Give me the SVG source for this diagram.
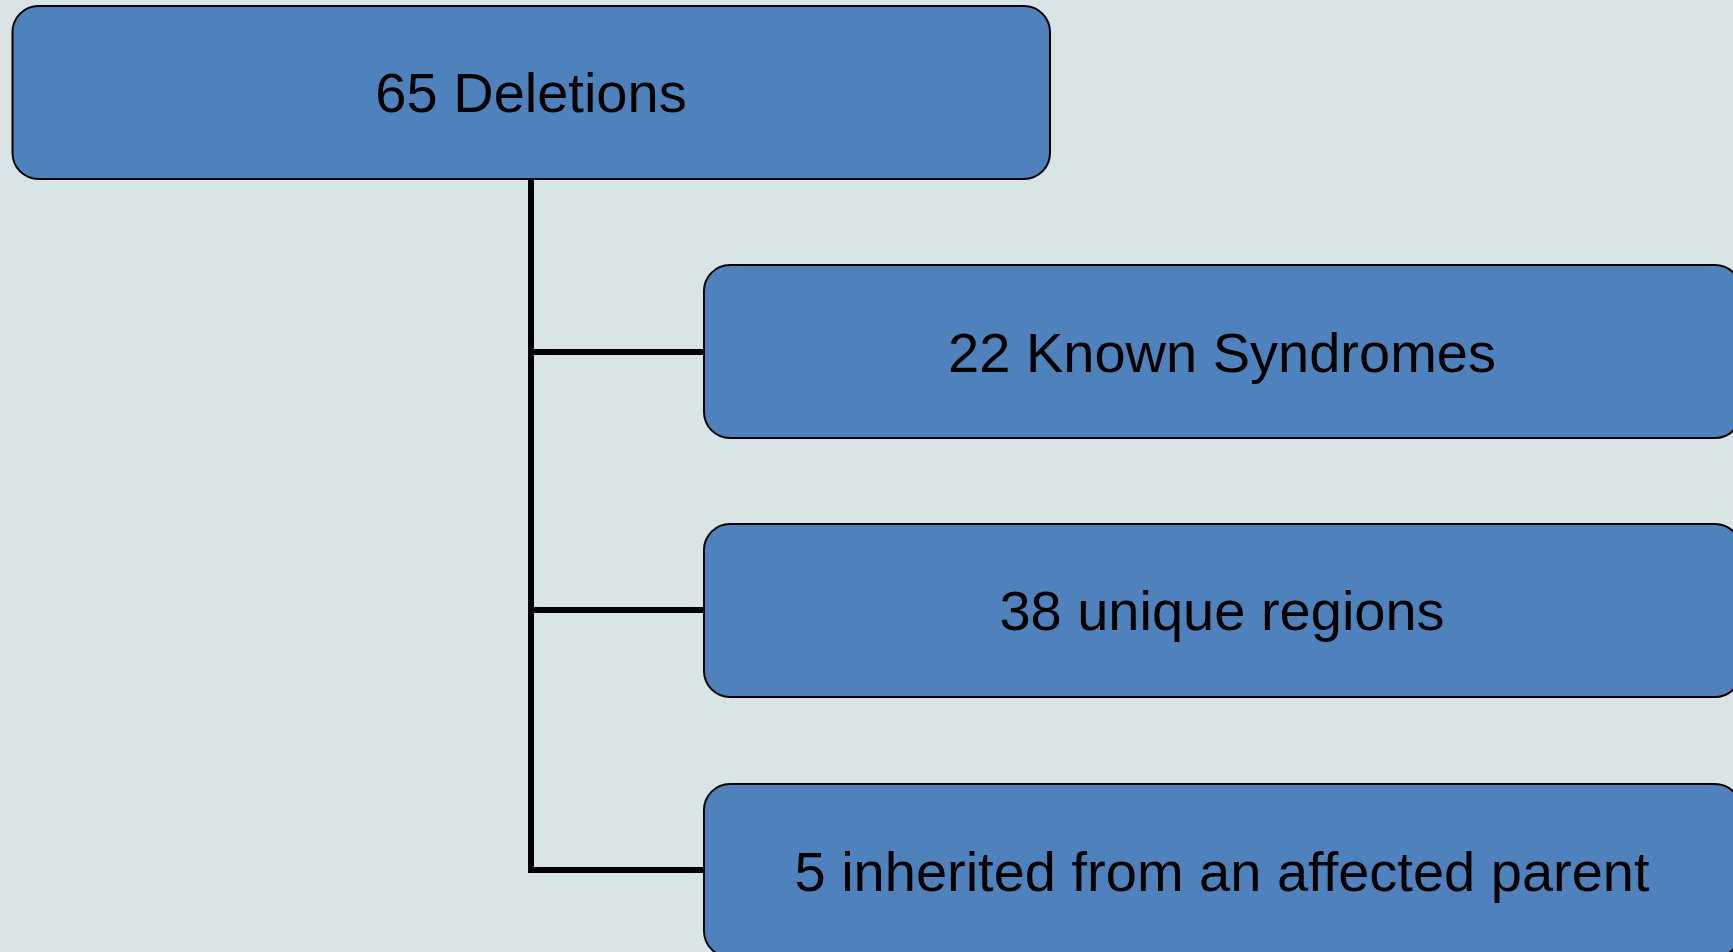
<svg xmlns="http://www.w3.org/2000/svg" width="1733" height="952" viewBox="0 0 1733 952">
<style>
.node{fill:#4f81bd;stroke:#000;stroke-width:2}
.lbl{font-family:"Liberation Sans",Arial,sans-serif;font-size:56px;fill:#000;text-anchor:middle}
.conn{fill:none;stroke:#000;stroke-width:6}
</style>
<rect width="1733" height="952" fill="#d9e4e6"/>
<g id="connectors">
<path class="conn" d="M531 179 V870 H704"/>
<path class="conn" d="M531 352 H704"/>
<path class="conn" d="M531 610 H704"/>
</g>
<g id="n-deletions">
<rect class="node" x="12.5" y="6" width="1037.5" height="173" rx="26"/>
<text class="lbl" x="531" y="112">65 Deletions</text>
</g>
<g id="n-known">
<rect class="node" x="704" y="265" width="1037" height="173" rx="26"/>
<text class="lbl" x="1222" y="372">22 Known Syndromes</text>
</g>
<g id="n-unique">
<rect class="node" x="704" y="524" width="1037" height="173" rx="26"/>
<text class="lbl" x="1222" y="630">38 unique regions</text>
</g>
<g id="n-inherited">
<rect class="node" x="704" y="784" width="1037" height="173" rx="26"/>
<text class="lbl" x="1222" y="891">5 inherited from an affected parent</text>
</g>
</svg>
